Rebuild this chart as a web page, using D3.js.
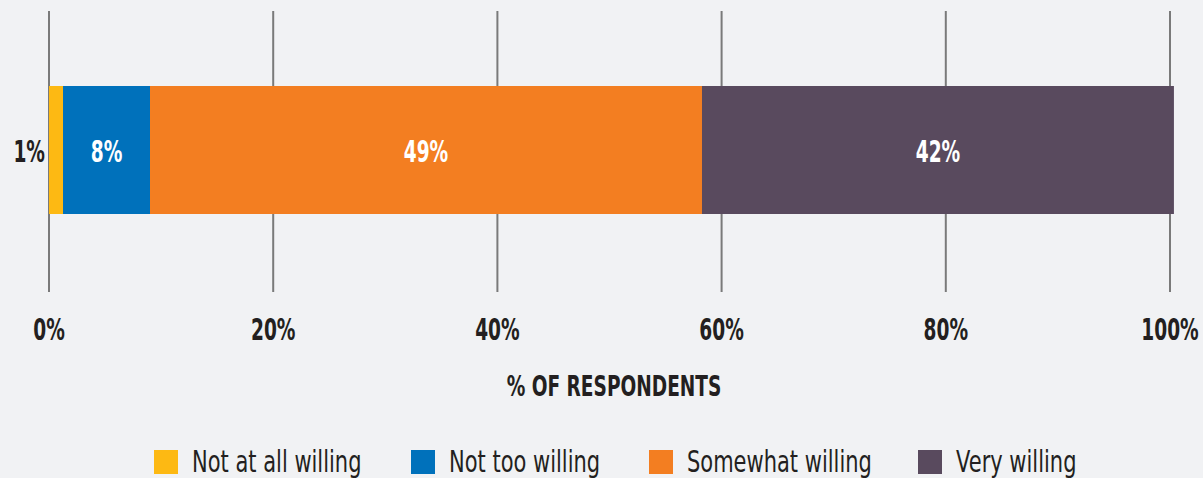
<!DOCTYPE html>
<html>
<head>
<meta charset="utf-8">
<script src="https://cdn.jsdelivr.net/npm/d3@7"></script>
<style>
  body { margin: 0; background: #f1f2f4; }
  svg { display: block; }
  text { font-family: "DejaVu Sans", sans-serif; }
</style>
</head>
<body>
<div id="chart"></div>
<script>
var categories = ['Not at all willing', 'Not too willing', 'Somewhat willing', 'Very willing'];
var values = [1.25, 7.76, 49.24, 42.1];
var labels = ['1%', '8%', '49%', '42%'];
var colors = ['#fdb913', '#0071bb', '#f37e21', '#594a5e'];
var ticks = [0, 20, 40, 60, 80, 100];

var width = 1203, height = 478;
// the original uses a condensed DIN-like face; squeeze DejaVu horizontally
var numSqueeze = 0.6, wordSqueeze = 0.7, titleSqueeze = 0.64;

var x = d3.scaleLinear()
    .domain([0, 100])
    .range([49, 1170]);

var svg = d3.select("#chart").append("svg")
    .attr("width", width)
    .attr("height", height);

svg.append("rect")
    .attr("width", width).attr("height", height)
    .attr("fill", "#f1f2f4");

function squeezed(sel, px, py, sx) {
    return sel.append("g")
        .attr("transform", "translate(" + px + "," + py + ") scale(" + sx + ",1)")
        .append("text");
}

// gridlines
svg.selectAll(".grid").data(ticks).enter()
    .append("line")
    .attr("class", "grid")
    .attr("x1", d => x(d)).attr("x2", d => x(d))
    .attr("y1", 11).attr("y2", 292)
    .attr("stroke", "#7a7a7a")
    .attr("stroke-width", 2);

// stacked segments
var start = 0;
var segs = values.map(function(v, i) {
    var s = {v: v, x0: start, x1: start + v, label: labels[i], color: colors[i]};
    start += v;
    return s;
});

svg.selectAll(".seg").data(segs).enter()
    .append("rect")
    .attr("class", "seg")
    .attr("x", d => x(d.x0))
    .attr("width", d => x(d.x1) - x(d.x0))
    .attr("y", 86)
    .attr("height", 128)
    .attr("fill", d => d.color);

segs.forEach(function(d, i) {
    var px = i == 0 ? x(d.x0) - 4 : (x(d.x0) + x(d.x1)) / 2;
    squeezed(svg, px, 162, numSqueeze)
        .attr("text-anchor", i == 0 ? "end" : "middle")
        .attr("font-size", 31)
        .attr("font-weight", "bold")
        .attr("fill", i == 0 ? "#231f20" : "#ffffff")
        .text(d.label);
});

// tick labels
ticks.forEach(function(t) {
    squeezed(svg, x(t), 340, numSqueeze)
        .attr("text-anchor", "middle")
        .attr("font-size", 31)
        .attr("font-weight", "bold")
        .attr("fill", "#231f20")
        .text(t + "%");
});

squeezed(svg, 614, 396, titleSqueeze)
    .attr("text-anchor", "middle")
    .attr("font-size", 29)
    .attr("font-weight", "bold")
    .attr("fill", "#231f20")
    .text("% OF RESPONDENTS");

// legend
var legendX = [154, 411, 649, 918];
categories.forEach(function(c, i) {
    var g = svg.append("g")
        .attr("transform", "translate(" + legendX[i] + ",450)");
    g.append("rect")
        .attr("width", 24).attr("height", 24)
        .attr("fill", colors[i]);
    squeezed(g, 38, 22, wordSqueeze)
        .attr("font-size", 30)
        .attr("fill", "#231f20")
        .text(c);
});
</script>
</body>
</html>
